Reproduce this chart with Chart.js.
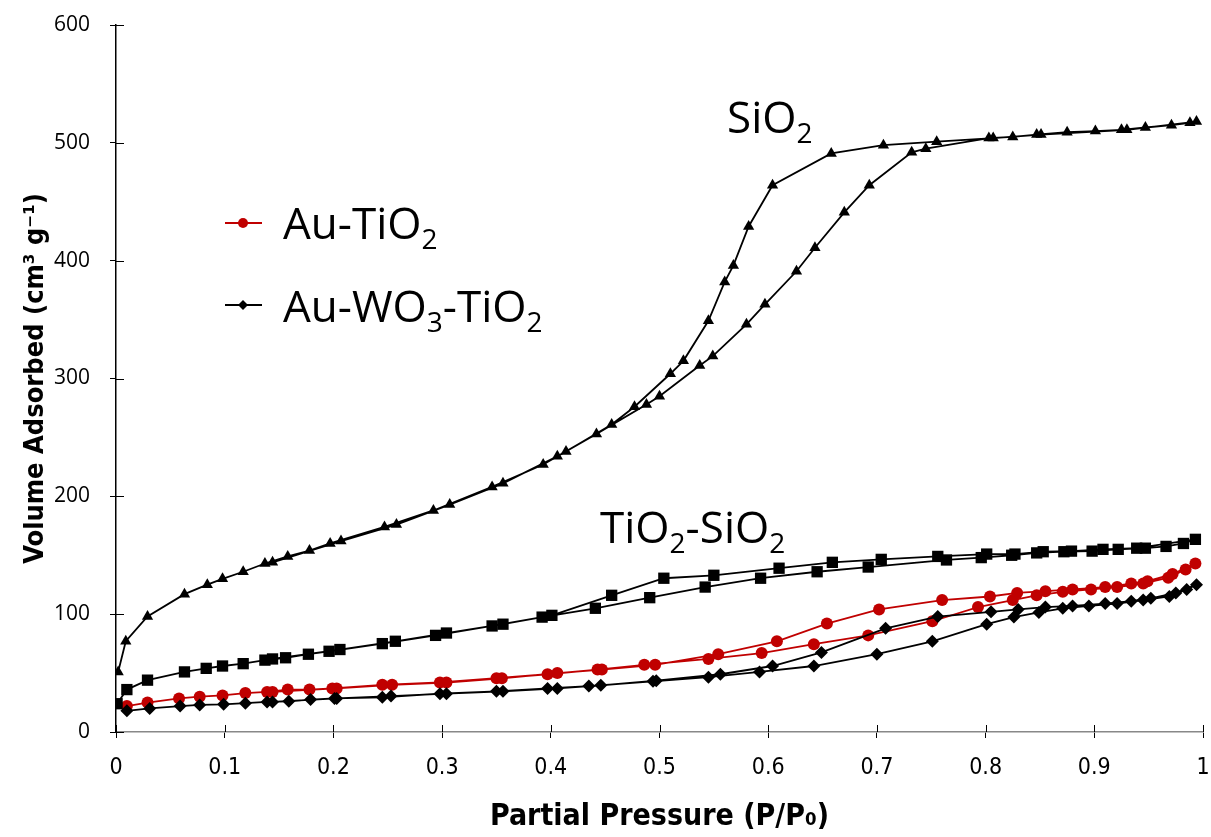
<!DOCTYPE html>
<html>
<head>
<meta charset="utf-8">
<script src="https://cdn.jsdelivr.net/npm/chart.js@4.4.1/dist/chart.umd.min.js"></script>
<style>
body { margin: 0; background: #fff; }
#wrap { position: relative; width: 1211px; height: 837px; }
.lbl { position: absolute; font-family: 'Open Sans', sans-serif; font-size: 44px; line-height: 44px; color: #000; white-space: nowrap; }
.lbl sub { font-size: 28px; vertical-align: -10px; line-height: 0; }
</style>
</head>
<body>
<div id="wrap">
  <canvas id="c1"></canvas>
  <div class="lbl" style="left:727px;top:94px">SiO<sub>2</sub></div>
  <div class="lbl" style="left:600px;top:504px">TiO<sub>2</sub>-SiO<sub>2</sub></div>
  <div class="lbl" style="left:283px;top:200px">Au-TiO<sub>2</sub></div>
  <div class="lbl" style="left:283px;top:283px">Au-WO<sub>3</sub>-TiO<sub>2</sub></div>
  <svg style="position:absolute;left:0;top:0" width="300" height="340">
    <line x1="225" y1="223" x2="262" y2="223" stroke="#C00000" stroke-width="2"/>
    <circle cx="243" cy="223" r="5" fill="#C00000"/>
    <line x1="225" y1="305" x2="262" y2="305" stroke="#000" stroke-width="2"/>
    <polygon points="243,300 248,305 243,310 238,305" fill="#000"/>
  </svg>
</div>
<script>
(function(divId){
    // isotherms: [P/P0, volume adsorbed]
    var sio2Ads = [[0.002,51],[0.009,77],[0.029,98],[0.063,117],[0.084,125],[0.098,130],[0.117,136],[0.137,143],[0.158,149],[0.178,154],[0.197,160],[0.247,174],[0.292,188],[0.346,208],[0.393,227],[0.442,253],[0.488,278],[0.500,285],[0.537,311],[0.549,319],[0.580,346],[0.597,363],[0.626,391],[0.643,411],[0.670,441],[0.693,464],[0.732,492],[0.745,495],[0.803,504],[0.825,505],[0.847,507],[0.875,509],[0.901,510],[0.925,511],[0.947,513],[0.971,515],[0.988,517]];
    var sio2Des = [[0.994,518],[0.930,511],[0.851,507],[0.807,504],[0.755,501],[0.706,498],[0.658,491],[0.604,464],[0.582,429],[0.568,396],[0.560,382],[0.545,349],[0.522,315],[0.510,304],[0.477,276],[0.456,261],[0.414,238],[0.406,234],[0.356,211],[0.307,193],[0.258,176],[0.207,162],[0.144,144]];

    var tisiAds = [[0.001,24],[0.010,36],[0.029,44],[0.063,51],[0.083,54],[0.098,56],[0.117,58],[0.137,61],[0.156,63],[0.177,66],[0.196,68.5],[0.245,75],[0.294,82],[0.346,90],[0.392,97.5],[0.441,105],[0.491,114],[0.542,123],[0.593,130.5],[0.645,136],[0.692,140],[0.764,146],[0.796,148],[0.824,150],[0.847,152],[0.872,153],[0.898,153.5],[0.922,155],[0.947,156],[0.966,157.5],[0.982,160],[0.993,163.5]];
    var tisiDes = [[0.939,156],[0.908,155],[0.879,153.5],[0.853,153],[0.827,151],[0.801,151],[0.756,149],[0.704,146.5],[0.659,144],[0.610,139],[0.550,133],[0.504,130.5],[0.456,116],[0.401,99],[0.356,91.5],[0.304,84],[0.257,77],[0.206,70],[0.144,62]];

    var auTiAds = [[0.010,22],[0.029,25],[0.058,28.5],[0.077,30],[0.098,31],[0.119,33],[0.139,34],[0.158,36],[0.178,36],[0.199,37],[0.245,40],[0.298,42],[0.350,45.6],[0.397,49],[0.443,53],[0.486,57],[0.545,62],[0.594,67],[0.642,74.5],[0.692,82],[0.751,94],[0.793,106],[0.825,112],[0.847,116],[0.871,119],[0.897,121],[0.921,123],[0.945,126],[0.968,131],[0.984,138],[0.993,143]];
    var auTiDes = [[0.972,134],[0.949,128],[0.934,126],[0.910,123],[0.880,121],[0.855,119.5],[0.829,118],[0.804,115],[0.760,112],[0.702,104],[0.654,92],[0.608,77],[0.554,66],[0.496,57],[0.447,53],[0.406,50],[0.355,45.6],[0.304,42],[0.254,40],[0.203,37],[0.144,34]];

    var auWAds = [[0.010,18],[0.031,20],[0.059,22],[0.077,23],[0.099,23.5],[0.119,24.5],[0.139,25.5],[0.159,26],[0.179,27.5],[0.201,28.5],[0.245,29.5],[0.298,32.5],[0.350,34.5],[0.397,37],[0.435,39],[0.494,43],[0.545,46.5],[0.592,51],[0.642,56],[0.700,66],[0.751,77],[0.801,91.5],[0.826,97.5],[0.849,101.5],[0.871,105],[0.895,107],[0.921,109],[0.945,112],[0.969,115],[0.985,121],[0.994,125]];
    var auWDes = [[0.975,118],[0.952,113.5],[0.934,111],[0.910,109],[0.880,107],[0.855,106],[0.830,104],[0.805,102],[0.756,98],[0.708,88],[0.649,67.5],[0.604,56],[0.556,49],[0.497,43.5],[0.446,39.6],[0.406,37],[0.356,34.5],[0.304,32.5],[0.253,30.5],[0.203,28.5],[0.144,25.5]];

    var xTicks = [0, 0.1, 0.2, 0.3, 0.4, 0.5, 0.6, 0.7, 0.8, 0.9, 1];
    var xTickLabels = ['0', '0.1', '0.2', '0.3', '0.4', '0.5', '0.6', '0.7', '0.8', '0.9', '1'];
    var yTicks = [0, 100, 200, 300, 400, 500, 600];

    var pts = (ads, des) => ads.concat(des).map((p) => ({x: p[0], y: p[1]}));

    var line = (label, data, color, style, r, order) => ({
        label: label,
        data: data,
        showLine: true,
        borderColor: color,
        backgroundColor: color,
        borderWidth: 1.8,
        pointStyle: style,
        pointRadius: r,
        pointBorderWidth: 0,
        order: order
    });

    var data = {
        datasets: [
            line('SiO2', pts(sio2Ads, sio2Des), '#000', 'triangle', 6.5, 1),
            line('TiO2-SiO2', pts(tisiAds, tisiDes), '#000', 'rect', 8, 2),
            line('Au-WO3-TiO2', pts(auWAds, auWDes), '#000', 'rectRot', 6.5, 3),
            line('Au-TiO2', pts(auTiAds, auTiDes), '#C00000', 'circle', 6, 4)
        ]
    };

    // Excel style ticks that cross the axis line
    var innerTicks = {
        id: 'innerTicks',
        beforeDatasetsDraw(chart) {
            var ctx = chart.ctx, a = chart.chartArea, x = chart.scales.x, y = chart.scales.y;
            ctx.save();
            ctx.lineWidth = 1;
            ctx.strokeStyle = '#000';
            ctx.beginPath();
            x.ticks.forEach((t) => { var p = Math.round(x.getPixelForValue(t.value)) + 0.5; ctx.moveTo(p, a.bottom); ctx.lineTo(p, a.bottom - 7); });
            y.ticks.forEach((t) => { var p = Math.round(y.getPixelForValue(t.value)) + 0.5; ctx.moveTo(a.left, p); ctx.lineTo(a.left + 8, p); });
            ctx.stroke();
            ctx.restore();
        }
    };

    var narrow = "'Liberation Sans Narrow', 'DejaVu Sans Condensed', sans-serif";

    var options = {
        responsive: true,
        maintainAspectRatio: false,
        animation: false,
        layout: { autoPadding: false, padding: { top: 25, right: 8, left: 0, bottom: 0 } },
        plugins: { legend: { display: false }, tooltip: { enabled: false } },
        scales: {
            x: {
                type: 'linear',
                min: 0,
                max: 1,
                afterBuildTicks: (s) => { s.ticks = xTicks.map((v) => ({value: v})); },
                afterFit: (s) => { s.height = 105; s.paddingLeft = 0; s.paddingRight = 0; },
                ticks: {
                    color: '#000',
                    padding: 16,
                    font: { family: narrow, size: 23 },
                    callback: (v) => xTickLabels[xTicks.indexOf(Math.round(v * 10) / 10)]
                },
                grid: { drawOnChartArea: false, tickLength: 6, color: '#000' },
                border: { display: true, color: '#888', width: 1.5 },
                title: {
                    display: true,
                    text: 'Partial Pressure (P/P\u2080)',
                    color: '#000',
                    font: { family: narrow, size: 30, weight: 'bold' },
                    padding: { top: 0, bottom: 2 }
                }
            },
            y: {
                min: 0,
                max: 600,
                afterBuildTicks: (s) => { s.ticks = yTicks.map((v) => ({value: v})); },
                afterFit: (s) => { s.width = 116; s.paddingTop = 0; s.paddingBottom = 0; },
                ticks: {
                    color: '#000',
                    padding: 20,
                    font: { family: "'Open Sans', sans-serif", size: 21 }
                },
                grid: { drawOnChartArea: false, tickLength: 6, color: '#000' },
                border: { display: true, color: '#000', width: 1.5 },
                title: {
                    display: true,
                    text: 'Volume Adsorbed (cm\u00b3 g\u207b\u00b9)',
                    color: '#000',
                    font: { family: narrow, size: 27, weight: 'bold' },
                    padding: { top: 20, bottom: 0 }
                }
            }
        }
    };

    var div = document.getElementById(divId);
    if (!div)
        return;

    var ctx = div.getContext("2d");
    var chart = new Chart(ctx, {
        type: 'scatter',
        data: data,
        options: options,
        plugins: [innerTicks]
    });
})("c1");
</script>
</body>
</html>
